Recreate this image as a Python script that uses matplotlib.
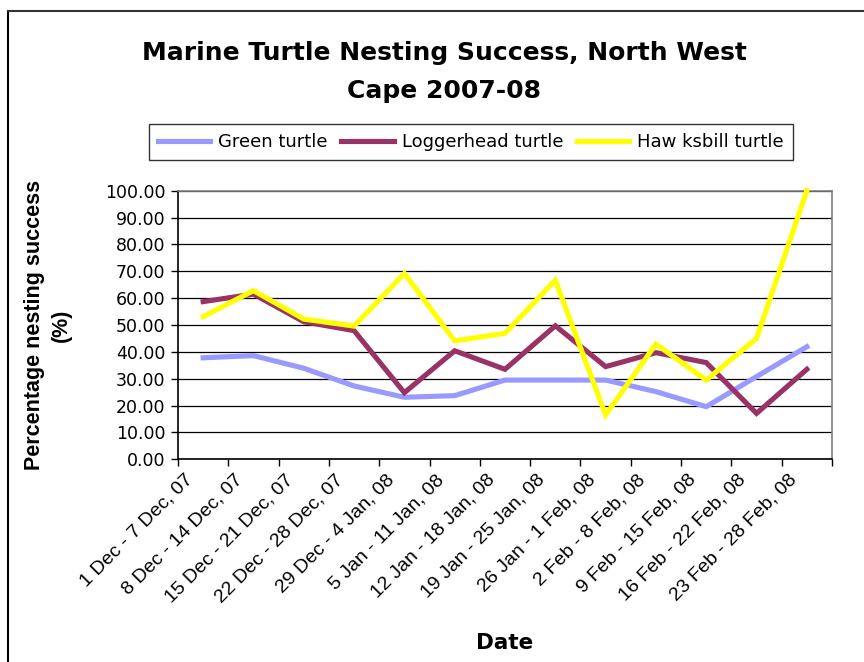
import matplotlib
matplotlib.use("Agg")
import matplotlib.pyplot as plt
from matplotlib.lines import Line2D
import numpy as np

categories = ["1 Dec - 7 Dec, 07", "8 Dec - 14 Dec, 07", "15 Dec - 21 Dec, 07",
              "22 Dec - 28 Dec, 07", "29 Dec - 4 Jan, 08", "5 Jan - 11 Jan, 08",
              "12 Jan - 18 Jan, 08", "19 Jan - 25 Jan, 08", "26 Jan - 1 Feb, 08",
              "2 Feb - 8 Feb, 08", "9 Feb - 15 Feb, 08", "16 Feb - 22 Feb, 08",
              "23 Feb - 28 Feb, 08"]
green = [37.8, 38.6, 33.9, 27.3, 23.1, 23.7, 29.5, 29.5, 29.5, 25.2, 19.6, 30.8, 41.9]
loggerhead = [58.7, 61.5, 51.2, 47.9, 24.8, 40.4, 33.5, 49.7, 34.5, 39.7, 36.0, 17.1, 33.5]
hawksbill = [53.1, 62.8, 52.2, 49.6, 69.2, 44.1, 46.9, 66.7, 16.5, 42.9, 29.5, 45.0, 100.0]
series_names = ["Green turtle", "Loggerhead turtle", "Haw ksbill turtle"]
colors = ["#9999FF", "#993366", "#FFFF00"]

plt.rcParams['font.family'] = ['DejaVu Sans']
NARROW = ['Liberation Sans', 'DejaVu Sans']

W, H = 864, 662
fig = plt.figure(figsize=(W / 100, H / 100), dpi=100)
ax = fig.add_axes([178 / W, 1 - 459.3 / H, (832 - 178) / W, (459.3 - 190.7) / H])

x = np.arange(len(categories))
for vals, c, n in zip([green, loggerhead, hawksbill], colors, series_names):
    ax.plot(x, vals, color=c, lw=3.7, label=n, solid_joinstyle='miter', clip_on=False, zorder=3)

ax.set_xlim(-0.5, len(categories) - 0.5)
ax.set_ylim(0, 100)
ax.set_yticks(np.arange(0, 101, 10))
ax.set_yticklabels([f"{v:.2f}" for v in np.arange(0, 101, 10)], fontsize=12.5)
ax.set_xticks(np.arange(-0.5, len(categories), 1))
ax.set_xticklabels([])
for i, cat in zip(x, categories):
    ax.annotate(cat, xy=(i, 0), xycoords=('data', 'axes fraction'),
                xytext=(-19, -12), textcoords='offset pixels',
                rotation=45, ha='right', va='top', rotation_mode='anchor',
                fontsize=14, family=NARROW, annotation_clip=False)
ax.tick_params(axis='x', which='major', length=5, width=1, direction='out', color='black')
ax.tick_params(axis='y', length=5, width=1, direction='out', pad=4)
ax.grid(axis='y', color='black', lw=0.9)
ax.set_axisbelow(True)
for s in ['top', 'right']:
    ax.spines[s].set_color('#808080')
    ax.spines[s].set_linewidth(1.2)
for s in ['left', 'bottom']:
    ax.spines[s].set_color('black')
    ax.spines[s].set_linewidth(1.2)

fig.text(444 / W, 1 - 60 / H, "Marine Turtle Nesting Success, North West",
         ha='center', va='baseline', fontsize=18, fontweight='bold')
fig.text(444 / W, 1 - 98 / H, "Cape 2007-08",
         ha='center', va='baseline', fontsize=18, fontweight='bold')
fig.text(48 / W, 1 - 325 / H, "Percentage nesting success\n(%)", rotation=90,
         ha='center', va='center', fontsize=15.5, fontweight='bold', multialignment='center',
         family=NARROW, linespacing=1.35)
fig.text(505 / W, 1 - 643 / H, "Date", ha='center', va='center', fontsize=15.5, fontweight='bold')

handles = [Line2D([0], [0], color=c, lw=3.7) for c in colors]
leg = fig.legend(handles, series_names, loc='center', bbox_to_anchor=(471 / W, 1 - 142 / H),
                 ncol=3, fontsize=13, frameon=True, fancybox=False, edgecolor='black',
                 handlelength=2.9, columnspacing=0.75, handletextpad=0.45, borderpad=0.5,
                 borderaxespad=0)
leg.get_frame().set_linewidth(1.0)

# outer chart border (left and top)
fig.add_artist(Line2D([8 / W, 8 / W], [0, 1 - 11 / H], color='black', lw=1.5, transform=fig.transFigure))
fig.add_artist(Line2D([8 / W, 1], [1 - 11 / H, 1 - 11 / H], color='#333333', lw=1.5, transform=fig.transFigure))

fig.savefig("out.png", dpi=100)
